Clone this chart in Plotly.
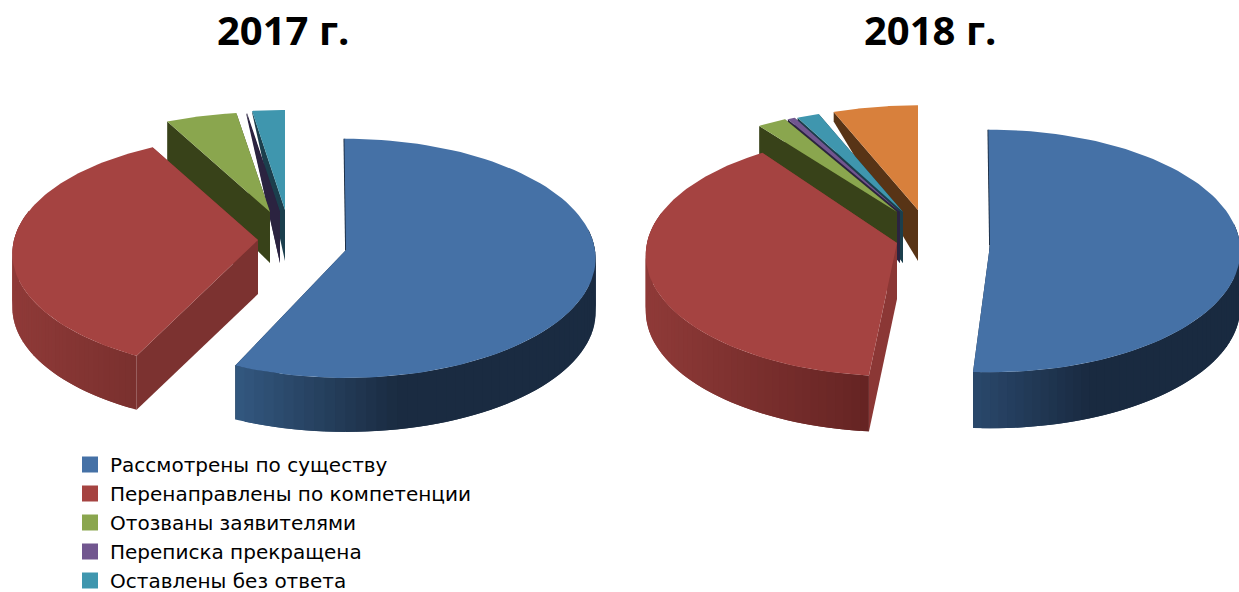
import math
import plotly.graph_objects as go

CATEGORIES = ["Рассмотрены по существу", "Перенаправлены по компетенции",
              "Отозваны заявителями", "Переписка прекращена", "Оставлены без ответа"]
VALUES_2017 = [57.0, 35.8, 4.9, 0.05, 2.25]
VALUES_2018 = [51.25, 38.85, 2.0, 0.5, 1.55, 5.85]   # the sixth slice has no legend entry
TITLES = ["2017 г.", "2018 г."]

# ---- styling / layout of the drawing (not data) ----
TOP = ["#4571A6", "#A54341", "#8AA64E", "#71568F", "#3F96AE", "#D8803C"]
INNER = ["#1A2B41", "#7C3230", "#384219", "#2B2340", "#1B3F4D", "#583416"]
W, H = 1239, 592
# per slice: explosion offset from pie centre (dx, dy), radii, perspective
PIES = [
    dict(center=(300, 240), depth=54, values=VALUES_2017, title_x=283,
         order=[4, 3, 2, 1, 0],
         explode=[(46, 10, 249, 119, .07), (-42, 0, 244, 116, .115), (-30, -28, 250, 107, .07),
                  (-20, -28, 250, 107, .07), (-15, -30, 250, 107, .07)],
         skew={0: (-0.4, -0.6), 1: (1.3, -2.5)},       # projection distortion of slice edges, degrees
         inner={1: "#7C3230"},
         wall={0: ("#335880", "#1A2B41", .45), 1: ("#8F3A38", "#7A302E", 1.0)}),
    dict(center=(930, 240), depth=56, values=VALUES_2018, title_x=930,
         order=[5, 4, 3, 2, 1, 0],
         explode=[(60, 5, 250, 121, .05), (-33, 3, 250, 120, .10), (-33, -28, 250, 112, .07),
                  (-30, -28, 250, 112, .07), (-27, -28, 250, 112, .07), (-12, -30, 250, 112, .07)],
         skew={0: (-0.4, -0.8), 1: (1.3, 0.0)},
         inner={1: "#8B3735"},
         wall={0: ("#2A486C", "#192A40", .44), 1: ("#8F3A38", "#652423", 1.0)}),
]
BACK_DEPTH = 51
CUT_DROP = {2: 0.8}      # share of the wall height kept at the rim on the green slice's cut face
TITLE_FONT = "Open Sans"
LEGEND_FONT = "DejaVu Sans"


def hex_mix(a, b, t):
    t = max(0.0, min(1.0, t))
    ca = [int(a[i:i + 2], 16) for i in (1, 3, 5)]
    cb = [int(b[i:i + 2], 16) for i in (1, 3, 5)]
    return "rgb(%d,%d,%d)" % tuple(round(x + (y - x) * t) for x, y in zip(ca, cb))


def rim(cx, cy, rx, ry, k, theta):
    w = 1 / (1 + k * math.cos(theta))
    return cx + rx * math.sin(theta) * w, cy - ry * math.cos(theta) * w


def drop(depth, theta):
    return depth * min(1.0, max(0.0, (1 - math.cos(theta)) / 0.35))


def poly(xs, ys, color):
    return go.Scatter(x=xs, y=ys, mode="lines", fill="toself", fillcolor=color,
                      line=dict(color=color, width=0), hoverinfo="skip", showlegend=False)


fig = go.Figure()
for name, color in zip(CATEGORIES, TOP):
    fig.add_trace(go.Scatter(x=[None], y=[None], mode="markers", name=name,
                             marker=dict(symbol="square", size=16, color=color)))

for pie in PIES:
    vals = pie["values"]
    total = sum(vals)
    edges = [0.0]
    for v in vals:
        edges.append(edges[-1] + v / total * 2 * math.pi)
    for i in pie["order"]:
        s0, s1 = pie["skew"].get(i, (0, 0))
        t0, t1 = edges[i] + math.radians(s0), edges[i + 1] + math.radians(s1)
        dx, dy, rx, ry, k = pie["explode"][i]
        ax, ay = pie["center"][0] + dx, pie["center"][1] + dy
        d = pie["depth"] if i < 2 else BACK_DEPTH
        inner = pie["inner"].get(i, INNER[i])
        # the two cut faces
        for t in (t1, t0):
            px, py = rim(ax, ay, rx, ry, k, t)
            h = d * CUT_DROP[i] if i in CUT_DROP else drop(d, t)
            fig.add_trace(poly([ax, px, px, ax, ax],
                               [ay, py, py + h, ay + d, ay], inner))
        if i == 0:
            # dark sliver of the first slice's cut face along its upper edge
            px, py = rim(ax, ay, rx, ry, k, t0)
            fig.add_trace(go.Scatter(x=[ax, px], y=[ay, py], mode="lines",
                                     line=dict(color=INNER[0], width=1.8),
                                     hoverinfo="skip", showlegend=False))
        # the outer wall, in overlapping strips for its gradient
        if i in pie["wall"]:
            c0, c1, ramp = pie["wall"][i]
            a = max(t0, math.radians(80))
            b = min(t1, math.radians(285))
            n = 56
            ts = [a + (b - a) * j / n for j in range(n + 1)]
            pts = [rim(ax, ay, rx, ry, k, t) for t in ts]
            xmin = min(p[0] for p in pts)
            xmax = max(p[0] for p in pts)
            # paint from the far end so that each strip overlaps the one before it
            idx = range(n - 1, -1, -1) if t0 < math.pi else range(n)
            for j in idx:
                j2 = max(j - 1, 0) if t0 < math.pi else min(j + 2, n)
                j1 = j + 1 if t0 < math.pi else j
                x0, y0 = pts[j1]
                x1, y1 = pts[j2]
                mx = (pts[j][0] + pts[j + 1][0]) / 2
                f = (mx - xmin) / (xmax - xmin) / ramp
                fig.add_trace(poly([x0, x1, x1, x0, x0],
                                   [y0, y1, y1 + drop(d, ts[j2]), y0 + drop(d, ts[j1]), y0],
                                   hex_mix(c0, c1, f)))
        # the top face
        ts = [t0 + (t1 - t0) * j / 90 for j in range(91)]
        pts = [rim(ax, ay, rx, ry, k, t) for t in ts]
        fig.add_trace(poly([ax] + [p[0] for p in pts] + [ax],
                           [ay] + [p[1] for p in pts] + [ay], TOP[i]))

annotations = [dict(x=p["title_x"], y=29, xref="x", yref="y", text=t, showarrow=False,
                    font=dict(family=TITLE_FONT, size=40, color="#000000", weight="bold"),
                    xanchor="center", yanchor="middle")
               for p, t in zip(PIES, TITLES)]

fig.update_layout(
    width=W, height=H, autosize=False,
    margin=dict(l=0, r=0, t=0, b=0, autoexpand=False),
    paper_bgcolor="#FFFFFF", plot_bgcolor="#FFFFFF",
    xaxis=dict(range=[0, W], visible=False, fixedrange=True),
    yaxis=dict(range=[H, 0], visible=False, fixedrange=True),
    annotations=annotations,
    showlegend=True,
    legend=dict(x=70 / W, xanchor="left", y=1 - 445 / H, yanchor="top",
                bgcolor="rgba(0,0,0,0)", borderwidth=0,
                font=dict(family=LEGEND_FONT, size=20, color="#000000")),
)
fig.write_html("out.html", config=dict(displayModeBar=False),
               post_script="document.body.style.margin='0';document.body.style.overflow='hidden';")
